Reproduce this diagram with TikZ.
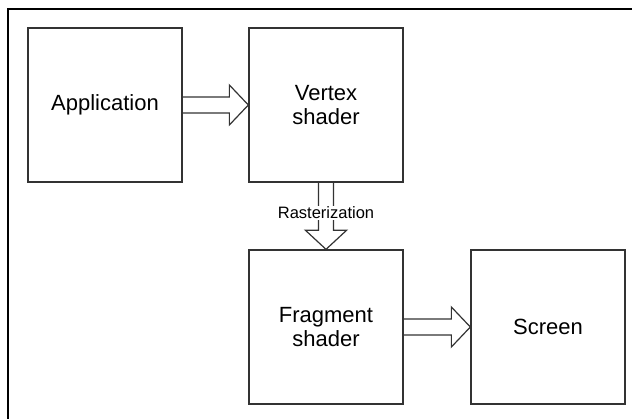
\documentclass[tikz,border=0pt]{standalone}
\usepackage{fontspec}
\setmainfont{Liberation Sans}
\usetikzlibrary{calc}
\begin{document}
\begin{tikzpicture}[x=1pt,y=1pt,
  stagebox/.style={draw=black!80, line width=1.3pt, fill=white, minimum width=154pt, minimum height=154pt, inner sep=0pt, align=center, font=\fontsize{22}{24}\selectfont},
  hollow/.style={draw=black!80, line width=1.2pt, line join=miter},
  lbl/.style={fill=white, inner sep=1pt, font=\fontsize{16.5}{18}\selectfont}]
\useasboundingbox (0,0) rectangle (632,-419);
\draw[line width=1.5pt] (8,-430) -- (8,-9) -- (640,-9);
\node[stagebox] (app) at (105,-105) {Application};
\node[stagebox] (vs) at (326,-105) {Vertex\\shader};
\node[stagebox] (fs) at (326,-327) {Fragment\\shader};
\node[stagebox] (scr) at (548,-327) {Screen};
% Application -> Vertex shader
\draw[hollow] ($(app.east)+(0,8)$) -- ($(vs.west)+(-19,8)$) -- ($(vs.west)+(-19,20)$) -- (vs.west) -- ($(vs.west)+(-19,-20)$) -- ($(vs.west)+(-19,-8)$) -- ($(app.east)+(0,-8)$);
% Vertex shader -> Fragment shader
\draw[hollow] ($(vs.south)+(-7.5,0)$) -- ($(fs.north)+(-7.5,19)$) -- ($(fs.north)+(-20.5,19)$) -- (fs.north) -- ($(fs.north)+(20.5,19)$) -- ($(fs.north)+(7.5,19)$) -- ($(vs.south)+(7.5,0)$);
\node[lbl] (ras) at ($(vs.south)!0.45!(fs.north)$) {Rasterization};
% Fragment shader -> Screen
\draw[hollow] ($(fs.east)+(0,8)$) -- ($(scr.west)+(-19,8)$) -- ($(scr.west)+(-19,20)$) -- (scr.west) -- ($(scr.west)+(-19,-20)$) -- ($(scr.west)+(-19,-8)$) -- ($(fs.east)+(0,-8)$);
\end{tikzpicture}
\end{document}
